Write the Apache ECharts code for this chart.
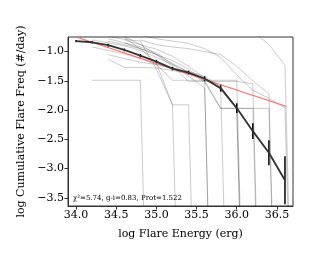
<!DOCTYPE html>
<html>
<head>
<meta charset="utf-8">
<script src="https://cdn.jsdelivr.net/npm/echarts@6/dist/echarts.min.js"></script>
<style>html,body{margin:0;padding:0;background:#fff;}#c{width:318px;height:258px;}</style>
</head>
<body>
<div id="c"></div>
<script>
// ---- data ----
const simEnergy = [34.0,34.2,34.4,34.6,34.8,35.0,35.2,35.4,35.6,35.8,36.0,36.2,36.4,36.6,36.8];
const simFreq = [
  [null,-1.49,-1.49,-1.49,-1.49,-12],
  [null,null,-1.13,-1.27,-1.27,-1.28,-1.32,-1.38,-1.48,-1.63,-12],
  [null,-0.92,-0.98,-1.04,-1.12,-1.22,-1.49,-1.49,-1.49,-12],
  [null,null,-0.74,-0.79,-0.82,-1.30,-1.91,-12],
  [null,null,null,-0.76,-0.95,-1.20,-1.91,-1.91,-12],
  [null,-0.80,-0.85,-0.90,-0.98,-1.10,-1.22,-1.35,-1.49,-1.49,-1.49,-12],
  [null,null,-0.82,-0.88,-0.95,-1.05,-1.15,-1.30,-1.50,-1.97,-1.97,-1.97,-12],
  [null,null,null,-0.74,-0.88,-1.05,-1.20,-1.35,-1.52,-1.97,-1.97,-1.97,-1.97,-12],
  [null,null,null,null,-0.72,-0.78,-0.82,-0.86,-0.95,-1.10,-1.40,-1.66,-1.80,-1.96,-12],
  [null,null,null,null,null,-0.60,-0.62,-0.60,-0.62,-0.64,-0.65,-0.66,-0.88,-1.23,-12],
  [null,null,null,null,-0.80,-0.88,-0.92,-0.95,-1.00,-1.05,-1.25,-1.50,-1.72,-12],
  [null,null,null,-0.85,-0.95,-1.05,-1.25,-1.51,-1.51,-1.51,-1.51,-1.55,-12],
  [null,null,-1.05,-1.12,-1.18,-1.22,-1.28,-1.34,-1.42,-1.60,-1.97,-12],
  [null,null,-0.78,-0.85,-0.92,-1.02,-1.22,-1.42,-1.62,-12],
  [null,null,null,-0.80,-0.88,-0.96,-1.08,-1.25,-1.45,-1.65,-1.98,-12]
];
const obsEnergy = [34.0,34.2,34.4,34.6,34.8,35.0,35.2,35.4,35.6,35.8,36.0,36.2,36.4,36.6];
const obsFreq   = [-0.82,-0.84,-0.89,-0.97,-1.07,-1.17,-1.29,-1.36,-1.46,-1.625,-1.966,-2.36,-2.73,-3.20];
const obsErr    = [0.02,0.02,0.025,0.025,0.03,0.03,0.03,0.035,0.04,0.06,0.085,0.135,0.215,0.41];
const fitEnergy = [34.02,36.62];
const fitFreq   = [-0.76,-1.94];
const xTicks = [34.0,34.5,35.0,35.5,36.0,36.5];
const yTicks = [-3.5,-3.0,-2.5,-2.0,-1.5,-1.0];
const annotation = '\u03c7\u00b2=5.74, g-i=0.83, Prot=1.522';

// ---- chart ----
const FONT = '"DejaVu Serif", "Liberation Serif", serif';
const series = [];
simFreq.forEach(arr => {
  series.push({
    type:'line', symbol:'none', silent:true, clip:true,
    data: arr.map((v,i)=>[simEnergy[i], v]),
    lineStyle:{color:'rgba(0,0,0,0.23)', width:0.9},
    connectNulls:false
  });
});
series.push({
  type:'line', symbol:'none', clip:true,
  data: fitEnergy.map((e,i)=>[e, fitFreq[i]]),
  lineStyle:{color:'#ff6666', width:1.1}
});
series.push({
  type:'line', symbol:'none', clip:true,
  data: obsEnergy.map((e,i)=>[e, obsFreq[i]]),
  lineStyle:{color:'#333', width:1.8}
});
series.push({
  type:'custom', clip:true,
  data: obsEnergy.map((e,i)=>[e, obsFreq[i], obsErr[i]]),
  renderItem:(params, api)=>{
    const x = api.value(0), y = api.value(1), e = api.value(2);
    const p1 = api.coord([x, y+e]), p2 = api.coord([x, y-e]);
    return {type:'line', shape:{x1:p1[0], y1:p1[1], x2:p2[0], y2:p2[1]},
            style:{stroke:'#000', lineWidth:1.5}};
  }
});

const chart = echarts.init(document.getElementById('c'), null, {renderer:'canvas'});
chart.setOption({
  animation:false,
  backgroundColor:'#fff',
  grid:{left:68, right:25, top:37, bottom:52, show:true, borderColor:'#333', borderWidth:1, backgroundColor:'transparent'},
  xAxis:{
    type:'value', min:33.9, max:36.7,
    name:'log Flare Energy (erg)', nameLocation:'middle', nameGap:23,
    nameTextStyle:{fontFamily:FONT, fontSize:11, color:'#000'},
    axisLine:{show:true, onZero:false, lineStyle:{color:'#333', width:1}},
    axisTick:{show:true, customValues:xTicks, length:3.5, lineStyle:{color:'#333'}},
    axisLabel:{customValues:xTicks, formatter:v=>Number(v).toFixed(1), fontFamily:FONT, fontSize:11, color:'#000', margin:4},
    splitLine:{show:false}
  },
  yAxis:{
    type:'value', min:-3.64, max:-0.75,
    name:'log Cumulative Flare Freq (#/day)', nameLocation:'middle', nameGap:40,
    nameTextStyle:{fontFamily:FONT, fontSize:11, color:'#000'},
    axisLine:{show:true, onZero:false, lineStyle:{color:'#333', width:1}},
    axisTick:{show:true, customValues:yTicks, length:3.5, lineStyle:{color:'#333'}},
    axisLabel:{customValues:yTicks, formatter:v=>Number(v).toFixed(1).replace('-', '\u2212'), fontFamily:FONT, fontSize:11, color:'#000', margin:4},
    splitLine:{show:false}
  },
  graphic:[{
    type:'text', left:73, top:195,
    style:{text:annotation, font:'7px ' + FONT, fill:'#000'}
  }],
  series: series
});
</script>
</body>
</html>
